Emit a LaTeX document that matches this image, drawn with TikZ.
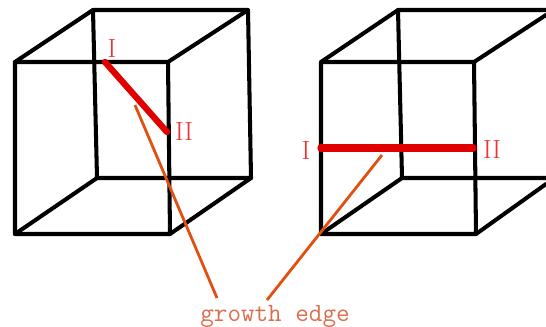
\documentclass[tikz,border=0pt]{standalone}
\definecolor{EdgeRed}{RGB}{224,0,0}
\definecolor{LabelRed}{RGB}{238,50,50}
\definecolor{LeadOrange}{RGB}{224,80,16}
\definecolor{TextOrange}{RGB}{218,110,80}
\usepackage{tikz}
\usetikzlibrary{positioning}

\begin{document}
\begin{tikzpicture}[x=0.02cm, y=-0.02cm,
	cube/.style={line width=2.3pt, black, line cap=round, line join=round},
	growth/.style={line width=3.6pt, EdgeRed, line cap=round},
	lead/.style={line width=1.6pt, LeadOrange},
	roman/.style={text=LabelRed, inner sep=0pt, font=\fontsize{15}{17}\selectfont},
	caption/.style={text=TextOrange, inner sep=0pt, font=\fontsize{15}{17}\ttfamily}]

	\useasboundingbox (0,0) rectangle (546,326);

	% left cube
	\coordinate (a1) at (15,62);
	\coordinate (a2) at (168,62);
	\coordinate (a3) at (170,234);
	\coordinate (a4) at (15,234);
	\coordinate (a5) at (93,10);
	\coordinate (a6) at (248,10);
	\coordinate (a7) at (251,178);
	\coordinate (a8) at (97,178);

	\draw[cube] (a1) -- (a2) -- (a3) -- (a4) -- cycle;
	\draw[cube] (a5) -- (a6) -- (a7) -- (a8) -- cycle;
	\draw[cube] (a1) -- (a5);   \draw[cube] (a2) -- (a6);
	\draw[cube] (a3) -- (a7);   \draw[cube] (a4) -- (a8);

	% right cube, runs off the page
	\coordinate (b1) at (321,62);
	\coordinate (b2) at (474,62);
	\coordinate (b3) at (476,234);
	\coordinate (b4) at (321,234);
	\coordinate (b5) at (398,10);
	\coordinate (b6) at (546,10);
	\coordinate (b7) at (546,178);
	\coordinate (b8) at (402,178);
	\coordinate (b9) at (546,15);
	\coordinate (b10) at (546,184);

	\draw[cube] (b1) -- (b2) -- (b3) -- (b4) -- cycle;
	\draw[cube] (b6) -- (b5) -- (b8) -- (b7);
	\draw[cube] (b1) -- (b5);   \draw[cube] (b2) -- (b9);
	\draw[cube] (b3) -- (b10);  \draw[cube] (b4) -- (b8);

	% growth edges
	\coordinate (p1) at (105,62);
	\coordinate (p2) at (167,132);
	\coordinate (q1) at (321,148);
	\coordinate (q2) at (473,148);
	\draw[growth] (p1) -- (p2);
	\draw[growth, line width=4.2pt] (q1) -- (q2);

	\node[roman] (i1) at (112,48) {I};
	\node[roman] (ii1) at (184,131) {II};
	\node[roman] (i2) at (306,150) {I};
	\node[roman] (ii2) at (492,149) {II};

	% leaders
	\node[caption] (edge) at (275,316) {growth edge};
	\coordinate (s1) at (135,105);
	\coordinate (e1) at (217,298);
	\coordinate (s2) at (382,155);
	\coordinate (e2) at (267,300);
	\draw[lead] (s1) -- (e1);
	\draw[lead] (s2) -- (e2);
\end{tikzpicture}
\end{document}
